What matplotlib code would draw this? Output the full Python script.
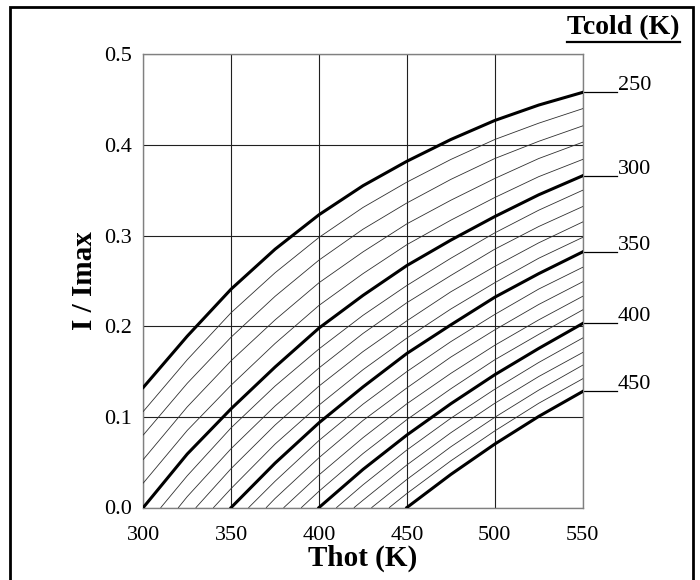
import numpy as np
import matplotlib
matplotlib.use("Agg")
import matplotlib.pyplot as plt
from matplotlib.patches import Rectangle
from matplotlib.lines import Line2D

plt.rcParams['font.family'] = ['Liberation Serif', 'DejaVu Serif']

# Thot grid (K) used for the read-off values
th_grid = [300, 325, 350, 375, 400, 425, 450, 475, 500, 525, 550]

# I/Imax, one list per Tcold (K)
# Tcold < 300: values at every th_grid point
i_250 = [0.1325, 0.189, 0.241, 0.285, 0.323, 0.355, 0.382, 0.406, 0.427, 0.444, 0.458]
i_260 = [0.106, 0.163, 0.215, 0.259, 0.298, 0.331, 0.359, 0.384, 0.406, 0.424, 0.440]
i_270 = [0.080, 0.137, 0.188, 0.233, 0.273, 0.307, 0.336, 0.362, 0.385, 0.404, 0.421]
i_280 = [0.053, 0.111, 0.162, 0.207, 0.248, 0.282, 0.313, 0.339, 0.363, 0.385, 0.403]
i_290 = [0.027, 0.085, 0.135, 0.181, 0.223, 0.258, 0.290, 0.317, 0.342, 0.365, 0.384]
# Tcold >= 300: first value at Thot = Tcold, then th_grid points above Tcold
i_300 = [0.0, 0.059, 0.109, 0.155, 0.198, 0.234, 0.267, 0.295, 0.321, 0.345, 0.366]
i_310 = [0.0, 0.035, 0.088, 0.134, 0.175, 0.212, 0.245, 0.275, 0.303, 0.328, 0.350]
i_320 = [0.0, 0.012, 0.065, 0.112, 0.154, 0.192, 0.226, 0.256, 0.285, 0.310, 0.332]
i_330 = [0.0, 0.043, 0.091, 0.134, 0.172, 0.206, 0.238, 0.266, 0.292, 0.315]
i_340 = [0.0, 0.021, 0.070, 0.113, 0.152, 0.187, 0.219, 0.248, 0.275, 0.298]
i_350 = [0.0, 0.049, 0.0935, 0.133, 0.170, 0.2015, 0.232, 0.258, 0.282]
i_360 = [0.0, 0.029, 0.074, 0.114, 0.150, 0.183, 0.213, 0.241, 0.265]
i_370 = [0.0, 0.010, 0.055, 0.096, 0.132, 0.166, 0.196, 0.224, 0.249]
i_380 = [0.0, 0.036, 0.077, 0.1145, 0.148, 0.179, 0.207, 0.233]
i_390 = [0.0, 0.018, 0.0595, 0.097, 0.131, 0.163, 0.191, 0.218]
i_400 = [0.0, 0.042, 0.080, 0.1145, 0.1465, 0.1755, 0.203]
i_410 = [0.0, 0.025, 0.0635, 0.0985, 0.1305, 0.160, 0.187]
i_420 = [0.0, 0.008, 0.047, 0.0825, 0.115, 0.1445, 0.171]
i_430 = [0.0, 0.031, 0.067, 0.0995, 0.1295, 0.157]
i_440 = [0.0, 0.0155, 0.0515, 0.0845, 0.115, 0.142]
i_450 = [0.0, 0.0365, 0.070, 0.1005, 0.128]

tcold = list(range(250, 451, 10))
curves = [i_250, i_260, i_270, i_280, i_290, i_300, i_310, i_320, i_330, i_340,
          i_350, i_360, i_370, i_380, i_390, i_400, i_410, i_420, i_430, i_440, i_450]
labelled = [250, 300, 350, 400, 450]


def thot_for(tc):
    if tc < th_grid[0]:
        return th_grid
    return [tc] + [t for t in th_grid if t > tc]


fig = plt.figure(figsize=(7, 5.8), dpi=100)
ax = fig.add_axes([0.2047, 0.125, 0.6277, 0.7814])

# thin lines first, thick ones on top
for tc, vals in zip(tcold, curves):
    if tc not in labelled:
        ax.plot(thot_for(tc), vals, color='#303030', lw=0.6, zorder=3)
for tc, vals in zip(tcold, curves):
    if tc in labelled:
        ax.plot(thot_for(tc), vals, color='black', lw=2.2, zorder=4)
        # leader line and label on the right
        ax.plot([550, 569.5], [vals[-1], vals[-1]], color='black', lw=0.9, clip_on=False)
        ax.annotate(str(tc), xy=(570, vals[-1]), xytext=(0, 1.5), textcoords='offset points',
                    fontsize=16, va='baseline', ha='left', annotation_clip=False)

ax.set_xlim(300, 550)
ax.set_ylim(0, 0.5)
ax.set_xticks(range(300, 551, 50))
ax.set_yticks(np.arange(0, 0.51, 0.1))
ax.yaxis.set_major_formatter(matplotlib.ticker.FormatStrFormatter('%.1f'))
ax.grid(True, color='#202020', lw=0.8, zorder=1)
ax.set_axisbelow(True)
ax.tick_params(length=0, labelsize=16)
ax.tick_params(axis='x', pad=13)
ax.tick_params(axis='y', pad=8)
for sp in ax.spines.values():
    sp.set_color('#808080')
    sp.set_linewidth(1.0)

fig.text(0.518, 1 - 558 / 580, 'Thot (K)', fontsize=21, fontweight='bold', ha='center', va='center')
fig.text(84 / 700, 1 - 281 / 580, 'I / Imax', fontsize=21, fontweight='bold', ha='center',
         va='center', rotation=90)
fig.text(623 / 700, 1 - 28 / 580, 'Tcold (K)', fontsize=20, fontweight='bold', ha='center', va='center')
fig.lines.append(Line2D([567 / 700, 680 / 700], [1 - 42 / 580, 1 - 42 / 580], color='black',
                        lw=1.6, transform=fig.transFigure))

# frame around the whole picture
fig.patches.append(Rectangle((10 / 700, -0.02), 683 / 700, 1 - 7 / 580 + 0.02, transform=fig.transFigure,
                             fill=False, ec='black', lw=2))

fig.savefig('out.png', dpi=100)
